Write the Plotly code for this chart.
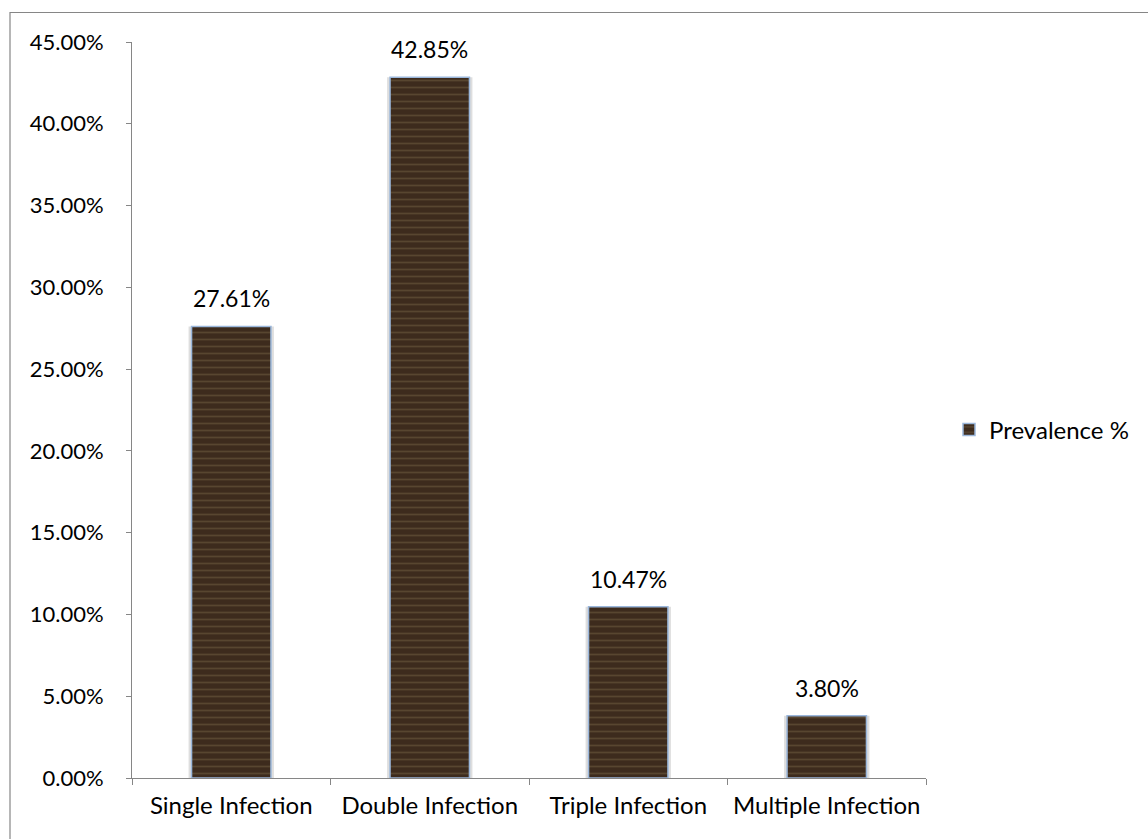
import plotly.graph_objects as go

# Prevalence of infection types
categories = ["Single Infection", "Double Infection", "Triple Infection", "Multiple Infection"]
prevalence = [27.61, 42.85, 10.47, 3.80]
series_name = "Prevalence %"

W, H = 1148, 839
L, R, T, B = 132, 222, 42, 61
plot_w = W - L - R
plot_h = H - T - B

FONT = "Lato"
FSIZE = 24
AXIS_GREY = "#868686"

fig = go.Figure()

# soft shadow behind each bar
fig.add_trace(go.Bar(
    x=categories,
    y=prevalence,
    width=0.43,
    marker=dict(color="rgba(0,0,0,0.13)", line=dict(width=0)),
    showlegend=False,
    hoverinfo="skip",
))

# wood-grain bars
fig.add_trace(go.Bar(
    x=categories,
    y=prevalence,
    name=series_name,
    width=0.4,
    marker=dict(
        color="#3f2d1f",
        line=dict(color="#9bb7db", width=1.5),
        pattern=dict(shape="-", fgcolor="#584630", bgcolor="#3d2b1d",
                     size=7, solidity=0.25, fillmode="replace"),
    ),
    showlegend=True,
))

# value labels above the bars
for cat, val in zip(categories, prevalence):
    fig.add_annotation(
        x=cat, y=val, text=f"{val:.2f}%", showarrow=False,
        yanchor="bottom", yshift=12,
        font=dict(family=FONT, size=23, color="#000000"),
    )

# chart-area border (extends past the right and bottom edges)
def px_to_paper_x(px):
    return (px - L) / plot_w

def px_to_paper_y(py):
    return (H - B - py) / plot_h

fig.add_shape(
    type="rect", xref="paper", yref="paper",
    x0=px_to_paper_x(10), x1=px_to_paper_x(1160),
    y0=px_to_paper_y(860), y1=px_to_paper_y(12.5),
    line=dict(color=AXIS_GREY, width=1.2), fillcolor="rgba(0,0,0,0)",
    layer="below",
)

fig.update_layout(
    width=W, height=H,
    margin=dict(l=L, r=R, t=T, b=B, autoexpand=False),
    paper_bgcolor="white", plot_bgcolor="white",
    font=dict(family=FONT, size=FSIZE, color="#000000"),
    barmode="overlay",
    legend=dict(
        x=px_to_paper_x(949), y=px_to_paper_y(430),
        xanchor="left", yanchor="middle",
        font=dict(family=FONT, size=FSIZE),
        itemwidth=30, bgcolor="rgba(0,0,0,0)",
    ),
    xaxis=dict(
        showline=True, linecolor=AXIS_GREY, linewidth=1,
        ticks="outside", tickson="boundaries", ticklen=6,
        tickcolor=AXIS_GREY, tickwidth=1,
        showgrid=False, zeroline=False,
        tickfont=dict(family=FONT, size=FSIZE),
        ticklabelstandoff=6,
    ),
    yaxis=dict(
        range=[0, 45], dtick=5, tick0=0,
        tickformat=".2f", ticksuffix="%",
        showline=True, linecolor=AXIS_GREY, linewidth=1,
        ticks="outside", ticklen=5, tickcolor=AXIS_GREY, tickwidth=1,
        showgrid=False, zeroline=False,
        tickfont=dict(family=FONT, size=22),
        ticklabelstandoff=18,
    ),
)

fig.write_html("out.html")
